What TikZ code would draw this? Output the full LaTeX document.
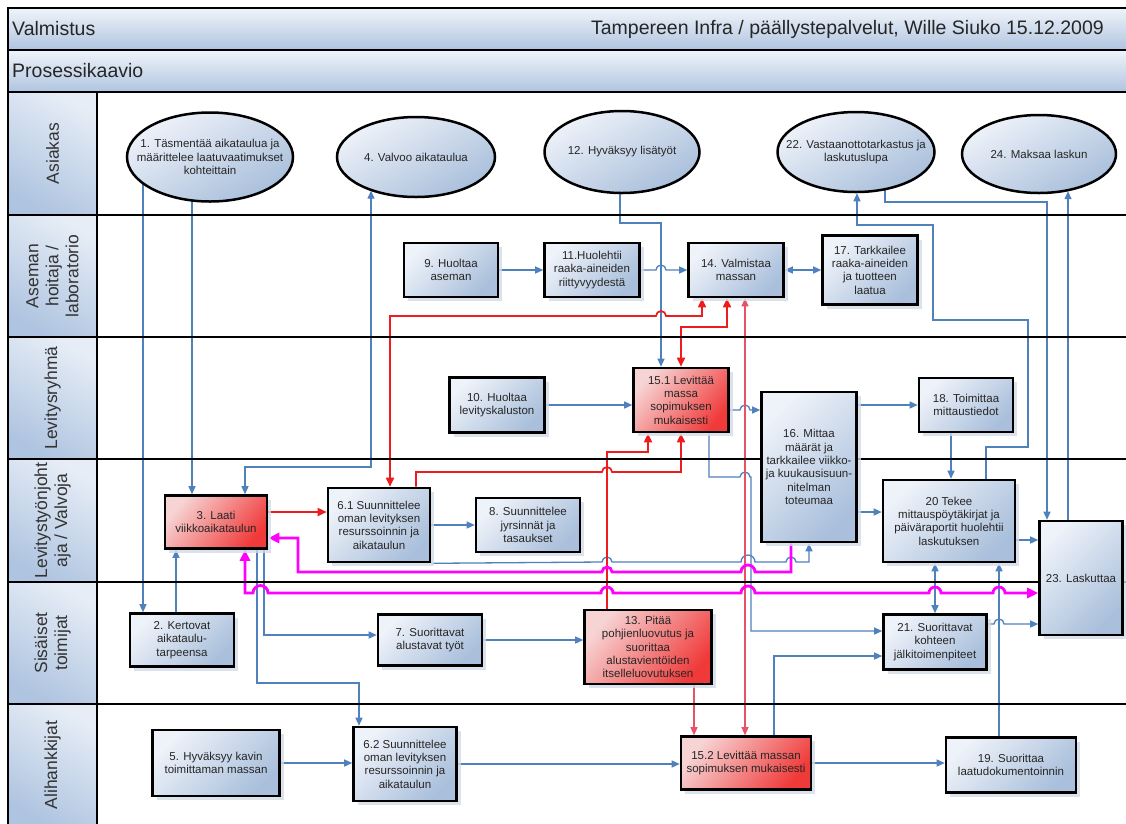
\documentclass[tikz,border=0pt]{standalone}
\usepackage{fontspec}
\setmainfont{Liberation Sans}
\usepackage{tikz}
\usetikzlibrary{shapes.geometric, arrows.meta, shadows}

\definecolor{boxlight}{HTML}{EEF2F9}
\definecolor{boxdark}{HTML}{A9BFDB}
\definecolor{redlight}{HTML}{F7D4D4}
\definecolor{reddark}{HTML}{F03A3A}
\definecolor{lanelight}{HTML}{E6EDF6}
\definecolor{lanedark}{HTML}{AFC4E0}
\definecolor{shadowgrey}{HTML}{D3DBE6}
\definecolor{linkblue}{HTML}{4F81BD}
\definecolor{linkred}{HTML}{EE1C1C}
\definecolor{linkpink}{HTML}{E65368}
\definecolor{linkmagenta}{HTML}{FF00FF}

\pgfdeclarelayer{paper}
\pgfdeclarelayer{lines}
\pgfsetlayers{paper,lines,main}

\tikzstyle{task} = [rectangle, draw=black, line width=2.6pt, align=center, text=black!85, font=\fontsize{11.5}{13.4}\selectfont, inner sep=1pt, top color=boxlight, bottom color=boxdark, shading angle=45, drop shadow={shadow xshift=4pt, shadow yshift=-4pt, fill=shadowgrey, opacity=0.8}]
\tikzstyle{hottask} = [task, top color=redlight, bottom color=reddark, shading angle=50]
\tikzstyle{actor} = [ellipse, draw=black, line width=2.5pt, align=center, text=black!85, font=\fontsize{11.5}{13.4}\selectfont, inner xsep=-22pt, inner ysep=0pt, top color=boxlight, bottom color=boxdark, shading angle=30]
\tikzstyle{lane} = [rectangle, draw=black, line width=2.4pt, align=center, font=\fontsize{17.5}{20}\selectfont, text=black!80, rotate=90, minimum height=89pt, top color=lanelight, bottom color=lanedark, shading angle=-30]
\tikzstyle{bar} = [rectangle, draw=black, line width=2.4pt, minimum height=42pt, minimum width=1124pt, top color=lanelight!60!white, bottom color=lanedark]
\tikzstyle{bartext} = [font=\fontsize{19.5}{22}\selectfont, text=black!85, inner sep=0pt]
\tikzstyle{blueline} = [draw=linkblue, line width=1.3pt, >={Triangle[length=8pt,width=7pt]}]
\tikzstyle{redline} = [draw=linkred, line width=1.7pt, >={Triangle[length=9pt,width=8pt]}]
\tikzstyle{pinkline} = [draw=linkpink, line width=1.1pt, >={Triangle[length=8pt,width=7pt]}]
\tikzstyle{magline} = [draw=linkmagenta, line width=2.8pt, >={Triangle[length=11pt,width=10pt]}]

\begin{document}
\begin{tikzpicture}[x=1pt, y=-1pt]
        \useasboundingbox (0,0) rectangle (1126,823);
        \begin{pgfonlayer}{paper}
        \fill[white] (0,0) rectangle (1126,823);
        \end{pgfonlayer}

        %title bars
        \node at (570,29) [bar] (hdr) {};
        \node at (570,71) [bar] (sub) {};
        \node at (12,29) [bartext, anchor=west] (hdrleft) {Valmistus};
        \node at (1104,29) [bartext, anchor=east] (hdrright) {Tampereen Infra / päällystepalvelut, Wille Siuko 15.12.2009};
        \node at (12,71) [bartext, anchor=west] (subleft) {Prosessikaavio};

        %lanes
        \node at (52.5,153.5) [lane, minimum width=123pt] (asiakas) {Asiakas};
        \node at (52.5,276) [lane, minimum width=122pt] (asema) {Aseman\\hoitaja /\\laboratorio};
        \node at (52.5,398) [lane, minimum width=122pt] (levitys) {Levitysryhmä};
        \node at (52.5,520.5) [lane, minimum width=123pt] (johtaja) {Levitystyönjoht\\aja / Valvoja};
        \node at (52.5,643) [lane, minimum width=122pt] (sisaiset) {Sisäiset\\toimijat};
        \node at (52.5,765) [lane, minimum width=122pt] (alihankkijat) {Alihankkijat};
        \draw [black, line width=2.4pt] (97,215) -- (1130,215);
        \draw [black, line width=2.4pt] (97,337) -- (1130,337);
        \draw [black, line width=2.4pt] (97,459) -- (1130,459);
        \draw [black, line width=2.4pt] (97,582) -- (1130,582);
        \draw [black, line width=2.4pt] (97,704) -- (1130,704);

        %Asiakas
        \node at (210,157) [actor, minimum width=166pt, minimum height=89pt] (e1) {1. Täsmentää aikataulua ja\\määrittelee laatuvaatimukset\\kohteittain};
        \node at (416,157) [actor, minimum width=158pt, minimum height=80pt] (e4) {4. Valvoo aikataulua};
        \node at (622,152) [actor, minimum width=155pt, minimum height=82pt] (e12) {12. Hyväksyy lisätyöt};
        \node at (856,152) [actor, minimum width=157pt, minimum height=80pt] (e22) {22. Vastaanottotarkastus ja\\laskutuslupa};
        \node at (1039,154) [actor, minimum width=154pt, minimum height=78pt] (e24) {24. Maksaa laskun};

        %Aseman hoitaja / laboratorio
        \node at (451,270) [task, minimum width=94pt, minimum height=54pt] (b9) {9. Huoltaa\\aseman};
        \node at (592,270) [task, minimum width=95pt, minimum height=54pt] (b11) {11.Huolehtii\\raaka-aineiden\\riittyvyydestä};
        \node at (736,270) [task, minimum width=95pt, minimum height=54pt] (b14) {14. Valmistaa\\massan};
        \node at (870,270) [task, minimum width=95pt, minimum height=69pt] (b17) {17. Tarkkailee\\raaka-aineiden\\ja tuotteen\\laatua};

        %Levitysryhma
        \node at (497,405) [task, minimum width=95pt, minimum height=55pt] (b10) {10. Huoltaa\\levityskaluston};
        \node at (681,400) [hottask, minimum width=95pt, minimum height=64pt] (b151) {15.1 Levittää\\massa\\sopimuksen\\mukaisesti};
        \node at (809,467) [task, minimum width=95pt, minimum height=150pt] (b16) {16. Mittaa\\määrät ja\\tarkkailee viikko-\\ja kuukausisuun-\\nitelman\\toteumaa};
        \node at (966,405) [task, minimum width=94pt, minimum height=54pt] (b18) {18. Toimittaa\\mittaustiedot};

        %Levitystyonjohtaja / Valvoja
        \node at (216,522) [hottask, minimum width=102pt, minimum height=53pt] (b3) {3. Laati\\viikkoaikataulun};
        \node at (379,525) [task, minimum width=102pt, minimum height=74pt] (b61) {6.1 Suunnittelee\\oman levityksen\\resurssoinnin ja\\aikataulun};
        \node at (528,525) [task, minimum width=104pt, minimum height=54pt] (b8) {8. Suunnittelee\\jyrsinnät ja\\tasaukset};
        \node at (949,521) [task, minimum width=132pt, minimum height=82pt] (b20) {20 Tekee\\mittauspöytäkirjat ja\\päiväraportit huolehtii\\laskutuksen};
        \node at (1081,578) [task, minimum width=83pt, minimum height=114pt] (b23) {23. Laskuttaa};

        %Sisaiset toimijat
        \node at (182,640) [task, minimum width=104pt, minimum height=53pt] (b2) {2. Kertovat\\aikataulu-\\tarpeensa};
        \node at (430,640) [task, minimum width=104pt, minimum height=51pt] (b7) {7. Suorittavat\\alustavat työt};
        \node at (648,647) [hottask, minimum width=127pt, minimum height=74pt] (b13) {13. Pitää\\pohjienluovutus ja\\suorittaa\\alustavientöiden\\itselleluovutuksen};
        \node at (935,642) [task, minimum width=103pt, minimum height=55pt] (b21) {21. Suorittavat\\kohteen\\jälkitoimenpiteet};

        %Alihankkijat
        \node at (216,763) [task, minimum width=127pt, minimum height=66pt] (b5) {5. Hyväksyy kavin\\toimittaman massan};
        \node at (405,764) [task, minimum width=103pt, minimum height=74pt] (b62) {6.2 Suunnittelee\\oman levityksen\\resurssoinnin ja\\aikataulun};
        \node at (746,763) [hottask, minimum width=130pt, minimum height=53pt] (b152) {15.2 Levittää massan\\sopimuksen mukaisesti};
        \node at (1011,765) [task, minimum width=130pt, minimum height=55pt] (b19) {19. Suorittaa\\laatudokumentoinnin};

        %Arrows
        \begin{pgfonlayer}{lines}
        %blue
        \draw [blueline,->] (143,0 |- e1.center) -- (143,0 |- b2.north);
        \draw [blueline,->] (192,0 |- e1.center) -- (192,0 |- b3.north);
        \draw [blueline,<->] (245,0 |- b3.north) -- (245,467) -- (371,467) -- (371,0 |- e4.216);
        \draw [blueline,->] (176,0 |- b2.north) -- (176,0 |- b3.south);
        \draw [blueline,->] (264,0 |- b3.south) -- (264,635) -- (b7.west |- 0,635);
        \draw [blueline,->] (257,0 |- b3.south) -- (257,683) -- (359,683) -- (359,0 |- b62.north);
        \draw [blueline,->] (b9.east) -- (b11.west);
        \draw [blueline,->] (b11.east) -- (656,270) arc (180:0:5pt) -- (b14.west);
        \draw [blueline,<->] (b14.east) -- (b17.west);
        \draw [blueline,->] (620,0 |- e12.center) -- (620,223) -- (661,223) -- (661,0 |- b151.north);
        \draw [blueline,->] (b10.east) -- (b10.east -| b151.west);
        \draw [blueline,->] (b151.east |- 0,410) -- (740,410) arc (180:0:5pt) -- (b16.west |- 0,410);
        \draw [blueline,->] (b16.east |- b18.west) -- (b18.west);
        \draw [blueline,->] (951,0 |- b18.south) -- (951,0 |- b20.north);
        \draw [blueline,->] (b16.east |- 0,512) -- (b20.west |- 0,512);
        \draw [blueline,->] (b20.east |- 0,540) -- (b23.west |- 0,540);
        \draw [blueline,->] (885,0 |- e22.center) -- (885,202) -- (1047,202) -- (1047,0 |- b23.north);
        \draw [blueline,->] (1068,0 |- b23.north) -- (1068,0 |- e24.309);
        \draw [blueline,->] (986,0 |- b20.north) -- (986,447) -- (1028,447) -- (1028,320) -- (933,320) -- (933,225) -- (857,225) -- (857,0 |- e22.south);
        \draw [blueline,<->] (935,0 |- b20.south) -- (935,0 |- b21.north);
        \draw [blueline,->] (999,0 |- b19.north) -- (999,0 |- b20.south);
        \draw [blueline,->] (b21.east |- 0,624) -- (994,624) arc (180:0:5pt) -- (b23.west |- 0,624);
        \draw [blueline,->] (709,0 |- b151.south) -- (709,477) -- (740,477) arc (180:0:5pt) -- (751,477) -- (751,631) -- (b21.west |- 0,631);
        \draw [blueline,->] (b7.east) -- (b7.east -| b13.west);
        \draw [blueline,->] (b5.east) -- (b5.east -| b62.west);
        \draw [blueline,->] (b62.east) -- (b62.east -| b152.west);
        \draw [blueline,->] (b152.east) -- (b152.east -| b19.west);
        \draw [blueline,->] (774,0 |- b152.north) -- (774,656) -- (b21.west |- 0,656);
        \draw [blueline,->] (b61.east) -- (b61.east -| b8.west);
        \draw [blueline,->] (b61.south east) -- (602,562) arc (180:0:5pt) -- (741,562) arc (180:0:7pt) -- (786,562) arc (180:0:5pt) -- (809,562) -- (809,0 |- b16.south);

        %red
        \draw [redline,->] (b3.east |- 0,512) -- (b61.west |- 0,512);
        \draw [redline,<->] (390,0 |- b61.north) -- (390,316) -- (656,316) arc (180:0:5pt) -- (702,316) -- (702,0 |- b14.south);
        \draw [redline,<->] (681,0 |- b151.north) -- (681,327) -- (727,327) -- (727,0 |- b14.south);
        \draw [redline,->] (607,0 |- b13.north) -- (607,452) -- (648,452) -- (648,0 |- b151.south);
        \draw [redline,->] (416,0 |- b61.north) -- (416,472) -- (602,472) arc (180:0:5pt) -- (681,472) -- (681,0 |- b151.south);
        \draw [pinkline,<->] (745,0 |- b152.north) -- (745,0 |- b14.south);
        \draw [pinkline,->] (694,0 |- b13.south) -- (694,0 |- b152.north);

        %magenta
        \draw [magline,->] (791,0 |- b16.south) -- (791,572) -- (755,572) arc (0:180:7pt) -- (612,572) arc (0:180:5pt) -- (298,572) -- (298,538) -- (b3.east |- 0,538);
        \draw [magline,<->] (245,0 |- b3.south) -- (245,593) -- (253,593) arc (180:0:7.5pt) -- (601,593) arc (180:0:6pt) -- (741,593) arc (180:0:7pt) -- (929,593) arc (180:0:6pt) -- (993,593) arc (180:0:6pt) -- (b23.west |- 0,593);
        \end{pgfonlayer}

\end{tikzpicture}
\end{document}
